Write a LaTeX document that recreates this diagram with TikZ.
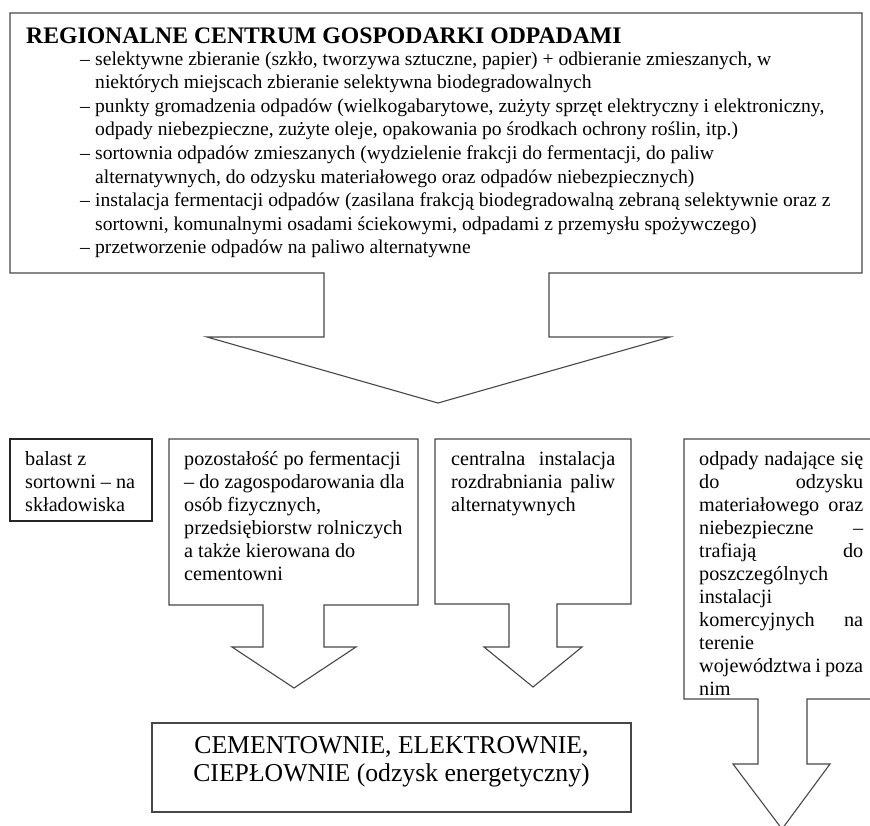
\documentclass[tikz,border=0pt]{standalone}
\usepackage{fontspec}
\setmainfont{Liberation Serif}
\begin{document}
\begin{tikzpicture}[x=1pt,y=-1pt,
  outl/.style={draw=black!72,line width=1.1pt,line join=miter,fill=white},
  ttl/.style={anchor=base west,inner sep=0pt,font=\fontsize{23.7}{25}\selectfont\bfseries},
  tb/.style={anchor=base west,inner sep=0pt,font=\fontsize{19.6}{21}\selectfont},
  bx/.style={anchor=base west,inner sep=0pt,font=\fontsize{20.2}{22}\selectfont},
  big/.style={anchor=base,inner sep=0pt,font=\fontsize{25.7}{27}\selectfont}]
\useasboundingbox[fill=white] (0,0) rectangle (870,825);
% outlines
\draw[outl] (10,13) -- (862,13) -- (862,273) -- (549,273) -- (549,337) -- (670,337)
  -- (438,403) -- (207,337) -- (324,337) -- (324,273) -- (10,273) -- cycle;
\draw[outl,draw=black!85] (10,439) rectangle (152,521);
\draw[outl] (169,439) -- (418,439) -- (418,605) -- (324,605) -- (324,647) -- (356,647)
  -- (294,688) -- (232,647) -- (263,647) -- (263,605) -- (169,605) -- cycle;
\draw[outl] (435,439) -- (631,439) -- (631,604) -- (557,604) -- (557,647) -- (582,647)
  -- (533,687) -- (484,647) -- (509,647) -- (509,604) -- (435,604) -- cycle;
\draw[outl] (684,439) -- (880,439) -- (880,699) -- (807,699) -- (807,764) -- (830,764)
  -- (782,829) -- (733,764) -- (758,764) -- (758,699) -- (684,699) -- cycle;
\draw[outl] (152,723) rectangle (631,812);
% top box text
\node[ttl] (title) at (26,43) {REGIONALNE CENTRUM GOSPODARKI ODPADAMI};
\node[tb] (t1) at (80,65.0) {\makebox[15pt][l]{–}selektywne zbieranie (szkło, tworzywa sztuczne, papier) + odbieranie zmieszanych, w};
\node[tb] (t2) at (95,88.6) {niektórych miejscach zbieranie selektywna biodegradowalnych};
\node[tb] (t3) at (80,112.2) {\makebox[15pt][l]{–}punkty gromadzenia odpadów (wielkogabarytowe, zużyty sprzęt elektryczny i elektroniczny,};
\node[tb] (t4) at (95,135.8) {odpady niebezpieczne, zużyte oleje, opakowania po środkach ochrony roślin, itp.)};
\node[tb] (t5) at (80,159.4) {\makebox[15pt][l]{–}sortownia odpadów zmieszanych (wydzielenie frakcji do fermentacji, do paliw};
\node[tb] (t6) at (95,183.0) {alternatywnych, do odzysku materiałowego oraz odpadów niebezpiecznych)};
\node[tb] (t7) at (80,206.6) {\makebox[15pt][l]{–}instalacja fermentacji odpadów (zasilana frakcją biodegradowalną zebraną selektywnie oraz z};
\node[tb] (t8) at (95,230.2) {sortowni, komunalnymi osadami ściekowymi, odpadami z przemysłu spożywczego)};
\node[tb] (t9) at (80,253.8) {\makebox[15pt][l]{–}przetworzenie odpadów na paliwo alternatywne};
% box 1
\node[bx] (a1) at (25,465) {balast z};
\node[bx] (a2) at (25,488) {sortowni – na};
\node[bx] (a3) at (25,511) {składowiska};
% box 2
\node[bx] (b1) at (184,465) {pozostałość po fermentacji};
\node[bx] (b2) at (184,488) {– do zagospodarowania dla};
\node[bx] (b3) at (184,511) {osób fizycznych,};
\node[bx] (b4) at (184,534) {przedsiębiorstw rolniczych};
\node[bx] (b5) at (184,557) {a także kierowana do};
\node[bx] (b6) at (184,580) {cementowni};
% box 3
\node[bx] (c1) at (451,465) {\makebox[164pt][s]{centralna instalacja}};
\node[bx] (c2) at (451,488) {\makebox[164pt][s]{rozdrabniania paliw}};
\node[bx] (c3) at (451,511) {alternatywnych};
% box 4
\node[bx] (d1) at (699,465) {\makebox[164pt][s]{odpady nadające się}};
\node[bx] (d2) at (699,488) {\makebox[164pt][s]{do odzysku}};
\node[bx] (d3) at (699,511) {\makebox[164pt][s]{materiałowego oraz}};
\node[bx] (d4) at (699,534) {\makebox[164pt][s]{niebezpieczne –}};
\node[bx] (d5) at (699,557) {\makebox[164pt][s]{trafiają do}};
\node[bx] (d6) at (699,580) {poszczególnych};
\node[bx] (d7) at (699,603) {instalacji};
\node[bx] (d8) at (699,626) {\makebox[164pt][s]{komercyjnych na}};
\node[bx] (d9) at (699,649) {terenie};
\node[bx] (d10) at (699,672) {\makebox[164pt][s]{województwa i poza}};
\node[bx] (d11) at (699,695) {nim};
% bottom box
\node[big] (e1) at (391.5,753) {CEMENTOWNIE, ELEKTROWNIE,};
\node[big] (e2) at (391.5,781) {CIEPŁOWNIE (odzysk energetyczny)};
\end{tikzpicture}
\end{document}
